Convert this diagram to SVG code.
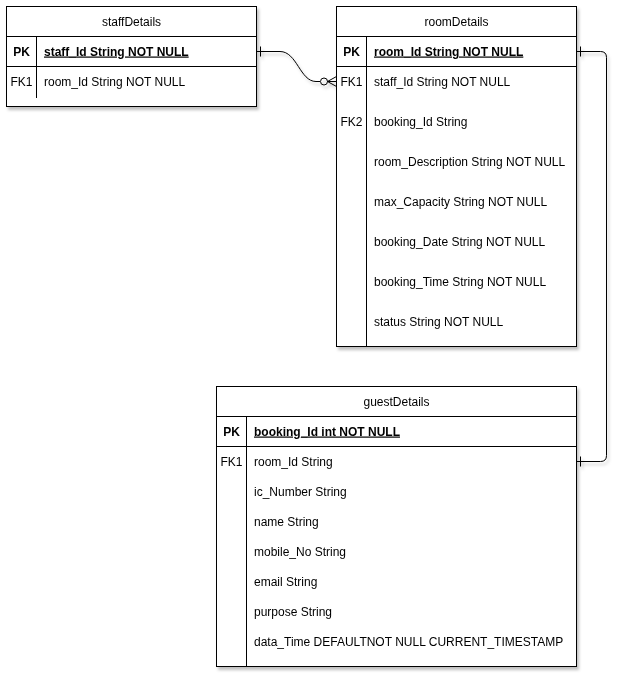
<svg xmlns="http://www.w3.org/2000/svg" width="629" height="681" viewBox="0 0 629 681">
<defs>
<filter id="sh" x="-10%" y="-10%" width="130%" height="130%">
<feDropShadow dx="2" dy="3" stdDeviation="1.5" flood-color="#000" flood-opacity="0.25"/>
</filter>
<style>
text{font-family:"Liberation Sans",Arial,sans-serif;font-size:12px;fill:#000;}
.t{text-anchor:middle;}
.k{text-anchor:middle;}
.pk{font-weight:bold;text-decoration:underline;}
.b{font-weight:bold;}
.box{fill:#fff;stroke:#000;stroke-width:1;}
.ln{fill:none;stroke:#000;stroke-width:1;}
</style>
</defs>
<rect width="629" height="681" fill="#fff"/>
<g filter="url(#sh)">
<g id="staffDetails">
<rect class="box" x="6.5" y="6.5" width="250" height="100"/>
<line class="ln" x1="6.5" y1="36.5" x2="256.5" y2="36.5"/>
<line class="ln" x1="6.5" y1="66.5" x2="256.5" y2="66.5"/>
<line class="ln" x1="36.5" y1="36.5" x2="36.5" y2="98"/>
<text class="t" x="131.5" y="25.5">staffDetails</text>
<text class="k b" x="21.5" y="55.5">PK</text>
<text class="pk" x="44" y="55.5">staff_Id String NOT NULL</text>
<text class="k" x="21.5" y="85.5">FK1</text>
<text x="44" y="85.5">room_Id String NOT NULL</text>
</g>
<g id="roomDetails">
<rect class="box" x="336.5" y="6.5" width="240" height="340"/>
<line class="ln" x1="336.5" y1="36.5" x2="576.5" y2="36.5"/>
<line class="ln" x1="336.5" y1="66.5" x2="576.5" y2="66.5"/>
<line class="ln" x1="366.5" y1="36.5" x2="366.5" y2="346.5"/>
<text class="t" x="456.5" y="25.5">roomDetails</text>
<text class="k b" x="351.5" y="55.5">PK</text>
<text class="pk" x="374" y="55.5">room_Id String NOT NULL</text>
<text class="k" x="351.5" y="85.5">FK1</text>
<text x="374" y="85.5">staff_Id String NOT NULL</text>
<text class="k" x="351.5" y="125.5">FK2</text>
<text x="374" y="125.5">booking_Id String</text>
<text x="374" y="165.5">room_Description String NOT NULL</text>
<text x="374" y="205.5">max_Capacity String NOT NULL</text>
<text x="374" y="245.5">booking_Date String NOT NULL</text>
<text x="374" y="285.5">booking_Time String NOT NULL</text>
<text x="374" y="325.5">status String NOT NULL</text>
</g>
<g id="guestDetails">
<rect class="box" x="216.5" y="386.5" width="360" height="280"/>
<line class="ln" x1="216.5" y1="416.5" x2="576.5" y2="416.5"/>
<line class="ln" x1="216.5" y1="446.5" x2="576.5" y2="446.5"/>
<line class="ln" x1="246.5" y1="416.5" x2="246.5" y2="666.5"/>
<text class="t" x="396.5" y="405.5">guestDetails</text>
<text class="k b" x="231.5" y="435.5">PK</text>
<text class="pk" x="254" y="435.5">booking_Id int NOT NULL</text>
<text class="k" x="231.5" y="465.5">FK1</text>
<text x="254" y="465.5">room_Id String</text>
<text x="254" y="495.5">ic_Number String</text>
<text x="254" y="525.5">name String</text>
<text x="254" y="555.5">mobile_No String</text>
<text x="254" y="585.5">email String</text>
<text x="254" y="615.5">purpose String</text>
<text x="254" y="645.5">data_Time DEFAULTNOT NULL CURRENT_TIMESTAMP</text>
</g>
<g id="connectors">
<path class="ln" d="M256.5 51.5 L280 51.5 C297 51.5 300 81.5 316 81.5 L320 81.5"/>
<line class="ln" x1="260.5" y1="46.5" x2="260.5" y2="56.5"/>
<circle class="ln" cx="324" cy="81.5" r="3.5" fill="#fff"/>
<path class="ln" d="M327.5 81.5 L336.5 81.5 M327.5 81.5 L336.5 76.5 M327.5 81.5 L336.5 86.5"/>
<path class="ln" d="M576.5 51.5 L600.5 51.5 Q606.5 51.5 606.5 57.5 L606.5 455.5 Q606.5 461.5 600.5 461.5 L576.5 461.5"/>
<line class="ln" x1="580.5" y1="46.5" x2="580.5" y2="56.5"/>
<line class="ln" x1="580.5" y1="456.5" x2="580.5" y2="466.5"/>
</g>
</g>
</svg>
